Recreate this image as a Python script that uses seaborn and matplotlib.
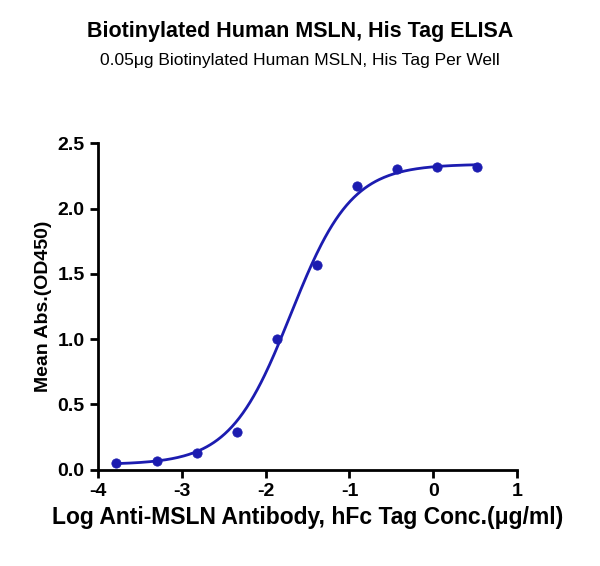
import matplotlib
matplotlib.use("Agg")
import matplotlib.pyplot as plt
import numpy as np
import seaborn as sns

# measured points
log_conc = [-3.78, -3.30, -2.82, -2.34, -1.86, -1.39, -0.91, -0.43, 0.04, 0.52]
mean_abs = [0.05, 0.065, 0.13, 0.29, 1.00, 1.57, 2.17, 2.30, 2.32, 2.32]

# 4PL fit parameters
bottom, top, log_ec50, hill = 0.04, 2.34, -1.70, 1.2

sns.set_theme(style="ticks")
plt.rcParams["font.family"] = ["Liberation Sans", "DejaVu Sans"]
plt.rcParams["axes.unicode_minus"] = False
plt.rcParams["text.color"] = "black"
plt.rcParams["axes.labelcolor"] = "black"

fig = plt.figure(figsize=(6, 5.66), dpi=100)
ax = fig.add_axes([0.163, 0.17, 0.699, 0.577])

xs = np.linspace(min(log_conc), max(log_conc), 300)
ys = bottom + (top - bottom) / (1 + 10 ** ((log_ec50 - xs) * hill))
color = "#1c1cb0"
sns.lineplot(x=xs, y=ys, ax=ax, color=color, linewidth=2)
sns.scatterplot(x=log_conc, y=mean_abs, ax=ax, color=color, s=45, edgecolor=color, zorder=3)

ax.set_xlim(-4, 1)
ax.set_ylim(0, 2.5)
ax.set_xticks([-4, -3, -2, -1, 0, 1])
ax.set_yticks([0.0, 0.5, 1.0, 1.5, 2.0, 2.5])
ax.set_yticklabels(["0.0", "0.5", "1.0", "1.5", "2.0", "2.5"])
for s in ["top", "right"]:
    ax.spines[s].set_visible(False)
for s in ["left", "bottom"]:
    ax.spines[s].set_linewidth(2)
    ax.spines[s].set_color("black")
ax.tick_params(width=2, length=6, labelsize=14, colors="black")
for lab in ax.get_xticklabels() + ax.get_yticklabels():
    lab.set_fontweight("bold")

ax.set_xlabel("Log Anti-MSLN Antibody, hFc Tag Conc.(μg/ml)", fontsize=16.5, fontweight="bold")
ax.set_ylabel("Mean Abs.(OD450)", fontsize=14, fontweight="bold")

fig.text(0.5, 0.935, "Biotinylated Human MSLN, His Tag ELISA", ha="center", fontsize=15.5, fontweight="bold")
fig.text(0.5, 0.885, "0.05μg Biotinylated Human MSLN, His Tag Per Well", ha="center", fontsize=12.5)

fig.savefig("out.png", dpi=100)
